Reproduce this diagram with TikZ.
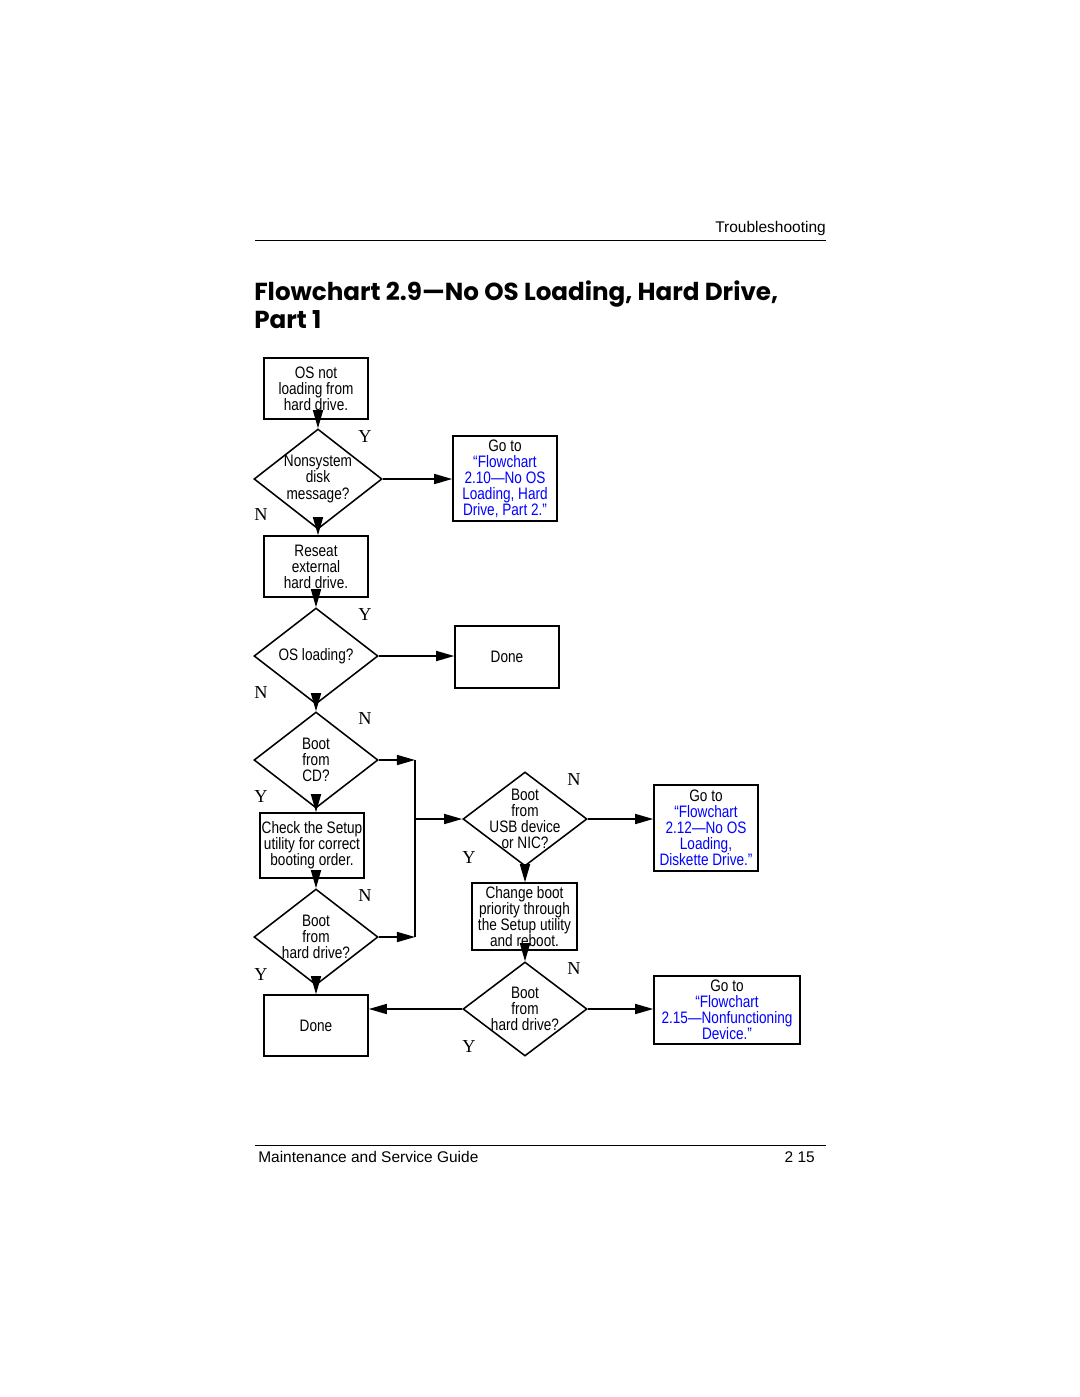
\documentclass[tikz,border=0pt]{standalone}
\usepackage{fontspec}
\setmainfont{Liberation Sans}
\newfontfamily\boxfont[FakeStretch=0.82]{Liberation Sans}
\newfontfamily\ynfont{Liberation Serif}
\newfontfamily\titlefont{Poppins}
\usetikzlibrary{shapes.geometric, arrows.meta, positioning}

\begin{document}
\begin{tikzpicture}[x=0.025cm, y=-0.025cm,
    every node/.style={inner sep=0pt},
    stepbox/.style={draw, line width=1.1pt, align=center,
      font=\boxfont\fontsize{11.8}{11.4}\selectfont},
    qtext/.style={align=center, font=\boxfont\fontsize{11.8}{11.4}\selectfont},
    decision/.style={diamond, draw, line width=1.1pt, minimum width=3.1cm,
      minimum height=2.4cm, label={[qtext]center:#1}},
    link/.style={text=blue},
    yn/.style={font=\ynfont\fontsize{13}{13}\selectfont},
    flow/.style={line width=1.1pt, -{Triangle[length=0.45cm, width=0.25cm]}}]

        \fill[white] (0,0) rectangle (1080,1397);
        \useasboundingbox (0,0) rectangle (1080,1397);

        % page head and foot
        \node[anchor=east, font=\fontsize{11}{13}\selectfont] (head) at (826,228) {Troubleshooting};
        \draw[line width=0.7pt] (255,240) -- (826,240);
        \node[anchor=north west, align=left, font=\titlefont\bfseries\fontsize{17.5}{20}\selectfont] (title) at (254,280)
          {Flowchart 2.9—No OS Loading, Hard Drive,\\Part 1};
        \draw[line width=0.7pt] (255,1145) -- (826,1145);
        \node[anchor=west, font=\fontsize{11}{13}\selectfont] (guide) at (258,1157) {Maintenance and Service Guide};
        \node[anchor=east, font=\fontsize{11}{13}\selectfont] (page) at (815,1157) {2 15};

        % left column
        \node[stepbox, minimum width=2.6cm, minimum height=1.525cm] (start) at (316,388.5) {OS not\\loading from\\hard drive.};
        \node[decision={Nonsystem\\disk\\message?}, minimum width=3.2cm, minimum height=2.5cm] (nonsys) at (318,479) {};
        \node[stepbox, minimum width=2.6cm, minimum height=2.125cm] (goto210) at (505,478.5)
          {Go to\\\textcolor{blue}{“Flowchart}\\\textcolor{blue}{2.10—No OS}\\\textcolor{blue}{Loading, Hard}\\\textcolor{blue}{Drive, Part 2.”}};
        \node[stepbox, minimum width=2.6cm, minimum height=1.525cm] (reseat) at (316,566.5) {Reseat\\external\\hard drive.};
        \node[decision={OS loading?}] (osload) at (316,656) {};
        \node[stepbox, minimum width=2.6cm, minimum height=1.55cm] (done1) at (507,657) {Done};
        \node[decision={Boot\\from\\CD?}] (bootcd) at (316,760) {};
        \node[stepbox, minimum width=2.6cm, minimum height=1.625cm] (check) at (312,845.5) {Check the Setup\\utility for correct\\booting order.};
        \node[decision={Boot\\from\\hard drive?}] (boothd) at (316,937) {};
        \node[stepbox, minimum width=2.6cm, minimum height=1.525cm] (done2) at (316,1025.5) {Done};

        % right column
        \node[decision={Boot\\from\\USB device\\or NIC?}, minimum height=2.35cm] (usb) at (525,819) {};
        \node[stepbox, minimum width=2.6cm, minimum height=2.15cm] (goto212) at (706,828)
          {Go to\\\textcolor{blue}{“Flowchart}\\\textcolor{blue}{2.12—No OS}\\\textcolor{blue}{Loading,}\\\textcolor{blue}{Diskette Drive.”}};
        \node[stepbox, minimum width=2.625cm, minimum height=1.675cm] (change) at (524.5,916.5)
          {Change boot\\priority through\\the Setup utility\\and reboot.};
        \node[decision={Boot\\from\\hard drive?}, minimum height=2.35cm] (boothdb) at (525,1009) {};
        \node[stepbox, minimum width=3.65cm, minimum height=1.7cm] (goto215) at (727,1010)
          {Go to\\\textcolor{blue}{“Flowchart}\\\textcolor{blue}{2.15—Nonfunctioning}\\\textcolor{blue}{Device.”}};

        \coordinate (jcd) at (415,760);
        \coordinate (jhd) at (415,937);
        \coordinate (jusb) at (415,819);

        % Y and N
        \node[yn] (y1) at (365,437) {Y};
        \node[yn] (n1) at (261,515) {N};
        \node[yn] (y2) at (365,615) {Y};
        \node[yn] (n2) at (261,693) {N};
        \node[yn] (n3) at (365,719) {N};
        \node[yn] (y3) at (261,797) {Y};
        \node[yn] (n4) at (365,896) {N};
        \node[yn] (y4) at (261,975) {Y};
        \node[yn] (n5) at (574,780) {N};
        \node[yn] (y5) at (469,858) {Y};
        \node[yn] (n6) at (574,968) {N};
        \node[yn] (y6) at (469,1046) {Y};

        % connectors
        \draw[flow] (nonsys.north |- start.south) -- (nonsys.north);
        \draw[flow] (nonsys.east) -- (goto210.west |- nonsys.east);
        \draw[flow] (nonsys.south) -- (nonsys.south |- reseat.north);
        \draw[flow] (osload.north |- reseat.south) -- (osload.north);
        \draw[flow] (osload.east) -- (done1.west |- osload.east);
        \draw[flow] (osload.south) -- (bootcd.north);
        \draw[flow] (bootcd.south) -- (bootcd.south |- check.north);
        \draw[flow] (boothd.north |- check.south) -- (boothd.north);
        \draw[flow] (boothd.south) -- (done2.north);
        \draw[flow] (bootcd.east) -- (jcd);
        \draw[flow] (boothd.east) -- (jhd);
        \draw[line width=1.1pt] (jcd) -- (jhd);
        \draw[flow] (jusb) -- (usb.west);
        \draw[flow] (usb.east) -- (goto212.west |- usb.east);
        \draw[flow] (usb.south) -- (usb.south |- change.north);
        \draw[flow] (boothdb.north |- change.south) -- (boothdb.north);
        \draw[flow] (boothdb.west) -- (done2.east |- boothdb.west);
        \draw[flow] (boothdb.east) -- (goto215.west |- boothdb.east);
\end{tikzpicture}
\end{document}
